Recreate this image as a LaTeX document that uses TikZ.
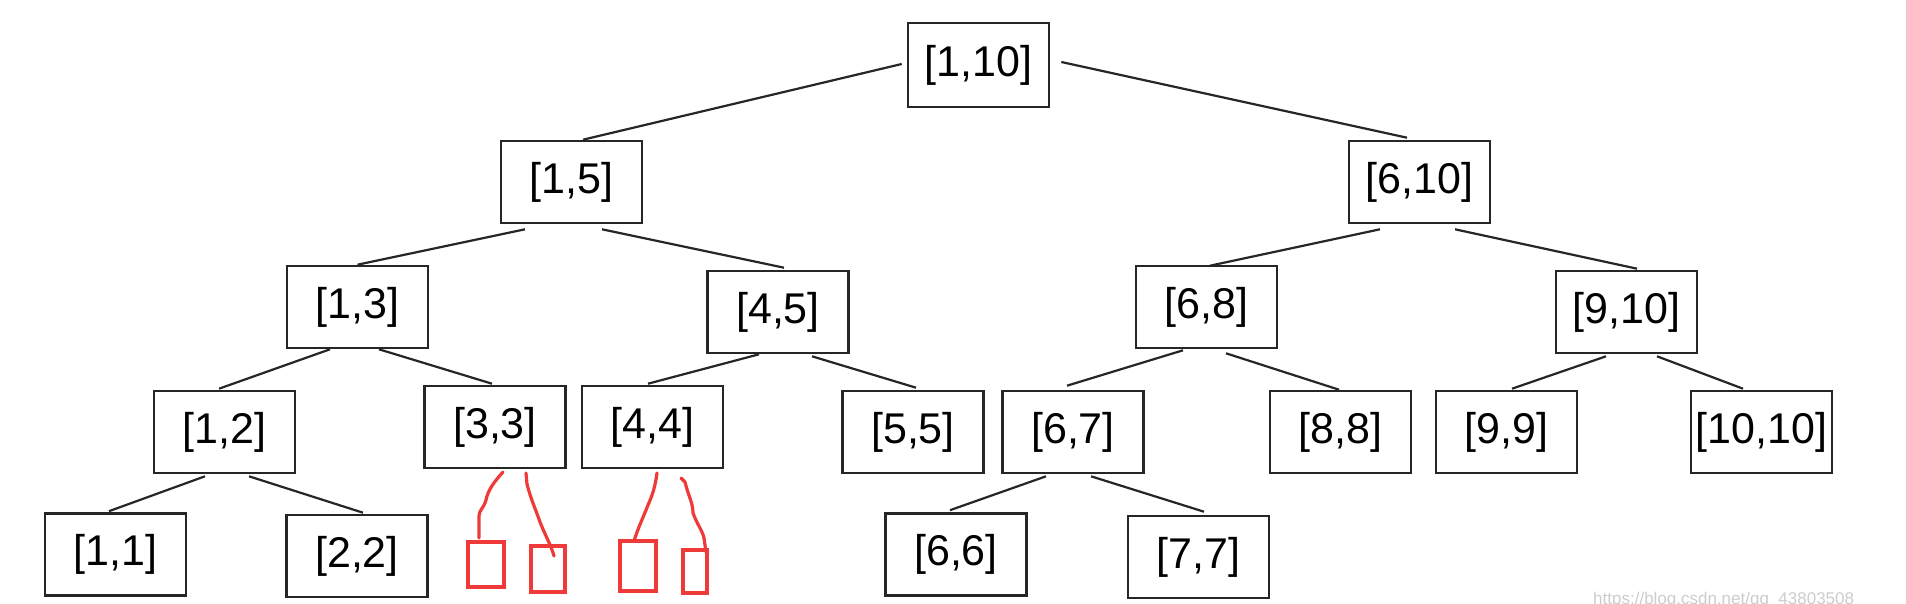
\documentclass[tikz,border=0pt]{standalone}
\usepackage{fontspec}
\setmainfont{Liberation Sans}
\definecolor{sketchred}{RGB}{240,58,58}
\definecolor{wmgray}{RGB}{205,205,205}
\tikzset{
  seg/.style={draw=black!85, line width=2.6pt, minimum width=141pt, minimum height=82pt, inner sep=0pt,
     font=\fontsize{43}{48}\selectfont},
  edge/.style={draw=black!85, line width=2.2pt},
  redbox/.style={draw=sketchred, line width=3.2pt, inner sep=0pt},
  redline/.style={draw=sketchred, line width=3.2pt, line cap=round, line join=round}
}
\begin{document}
\begin{tikzpicture}[x=1pt,y=-1pt]
\useasboundingbox[fill=white] (0,0) rectangle (1906,604);
% nodes
\node[seg, minimum height=84pt] (r) at (978.5,65) {[1,10]};
\node[seg] (a15)  at (571.5,182) {[1,5]};
\node[seg] (a610) at (1419.5,182) {[6,10]};
\node[seg] (a13)  at (357.5,307) {[1,3]};
\node[seg] (a45)  at (778,312) {[4,5]};
\node[seg] (a68)  at (1206.5,307) {[6,8]};
\node[seg] (a910) at (1626.5,312) {[9,10]};
\node[seg] (a12)  at (224.5,432) {[1,2]};
\node[seg] (a33)  at (495,427) {[3,3]};
\node[seg] (a44)  at (652.5,427) {[4,4]};
\node[seg] (a55)  at (913,432) {[5,5]};
\node[seg] (a67)  at (1073,432) {[6,7]};
\node[seg] (a88)  at (1340.5,432) {[8,8]};
\node[seg] (a99)  at (1506.5,432) {[9,9]};
\node[seg] (a1010) at (1761.5,432) {[10,10]};
\node[seg] (a11)  at (115.5,554.5) {[1,1]};
\node[seg] (a22)  at (357,556) {[2,2]};
\node[seg] (a66)  at (956,554.5) {[6,6]};
\node[seg] (a77)  at (1198.5,557) {[7,7]};
% edges
\draw[edge] ([shift={(-5,-1)}]r.west) -- ([shift={(11.5,0)}]a15.north);
\draw[edge] ([shift={(11,-3)}]r.east) -- ([shift={(-12.5,-2)}]a610.north);
\draw[edge] ([shift={(-46.5,5)}]a15.south) -- ([shift={(0,0)}]a13.north);
\draw[edge] ([shift={(30.5,5)}]a15.south) -- ([shift={(6,-2)}]a45.north);
\draw[edge] ([shift={(-39.5,5)}]a610.south) -- ([shift={(3.5,1)}]a68.north);
\draw[edge] ([shift={(35.5,5)}]a610.south) -- ([shift={(10.5,-1)}]a910.north);
\draw[edge] ([shift={(-27.5,0)}]a13.south) -- ([shift={(-5.5,-1)}]a12.north);
\draw[edge] ([shift={(21.5,0)}]a13.south) -- ([shift={(-3,-1)}]a33.north);
\draw[edge] ([shift={(-19,0)}]a45.south) -- ([shift={(-4.5,-1)}]a44.north);
\draw[edge] ([shift={(34,2)}]a45.south) -- ([shift={(3,-2)}]a55.north);
\draw[edge] ([shift={(-23.5,1)}]a68.south) -- ([shift={(-6,-4)}]a67.north);
\draw[edge] ([shift={(19.5,4)}]a68.south) -- ([shift={(-1.5,0)}]a88.north);
\draw[edge] ([shift={(-20.5,2)}]a910.south) -- ([shift={(5.5,-1)}]a99.north);
\draw[edge] ([shift={(30.5,2)}]a910.south) -- ([shift={(-18.5,-1)}]a1010.north);
\draw[edge] ([shift={(-19.5,2)}]a12.south) -- ([shift={(-6.5,-1)}]a11.north);
\draw[edge] ([shift={(24.5,2)}]a12.south) -- ([shift={(6,-1)}]a22.north);
\draw[edge] ([shift={(-27,2)}]a67.south) -- ([shift={(-6,-2)}]a66.north);
\draw[edge] ([shift={(18,2)}]a67.south) -- ([shift={(5.5,-3)}]a77.north);
% red sketch
\node[redbox, minimum width=36pt, minimum height=45pt] (s1) at (486,564.5) {};
\node[redbox, minimum width=34pt, minimum height=46pt] (s2) at (548,569) {};
\node[redbox, minimum width=36pt, minimum height=50pt] (s3) at (638,566) {};
\node[redbox, minimum width=24pt, minimum height=43pt] (s4) at (695,571.5) {};
\draw[redline] (503,472) .. controls (494,482) and (488,490) .. (486,500) .. controls (484,508) and (479,510) .. (479,516) -- (479,538);
\draw[redline] (526,473) -- (527,484) .. controls (531,500) and (536,510) .. (540,522) .. controls (545,535) and (551,545) .. (554,556);
\draw[redline] (657,473) .. controls (655,488) and (652,496) .. (648,505) .. controls (643,518) and (638,528) .. (634,541);
\draw[redline] (681,478) -- (685,482) .. controls (688,495) and (693,503) .. (693,513) .. controls (697,524) and (703,532) .. (704,538) -- (706,552);
% watermark
\node[anchor=base west, text=wmgray, inner sep=0pt, font=\fontsize{17}{20}\selectfont] (wm) at (1593,604) {https://blog.csdn.net/qq\_43803508};
\end{tikzpicture}
\end{document}
